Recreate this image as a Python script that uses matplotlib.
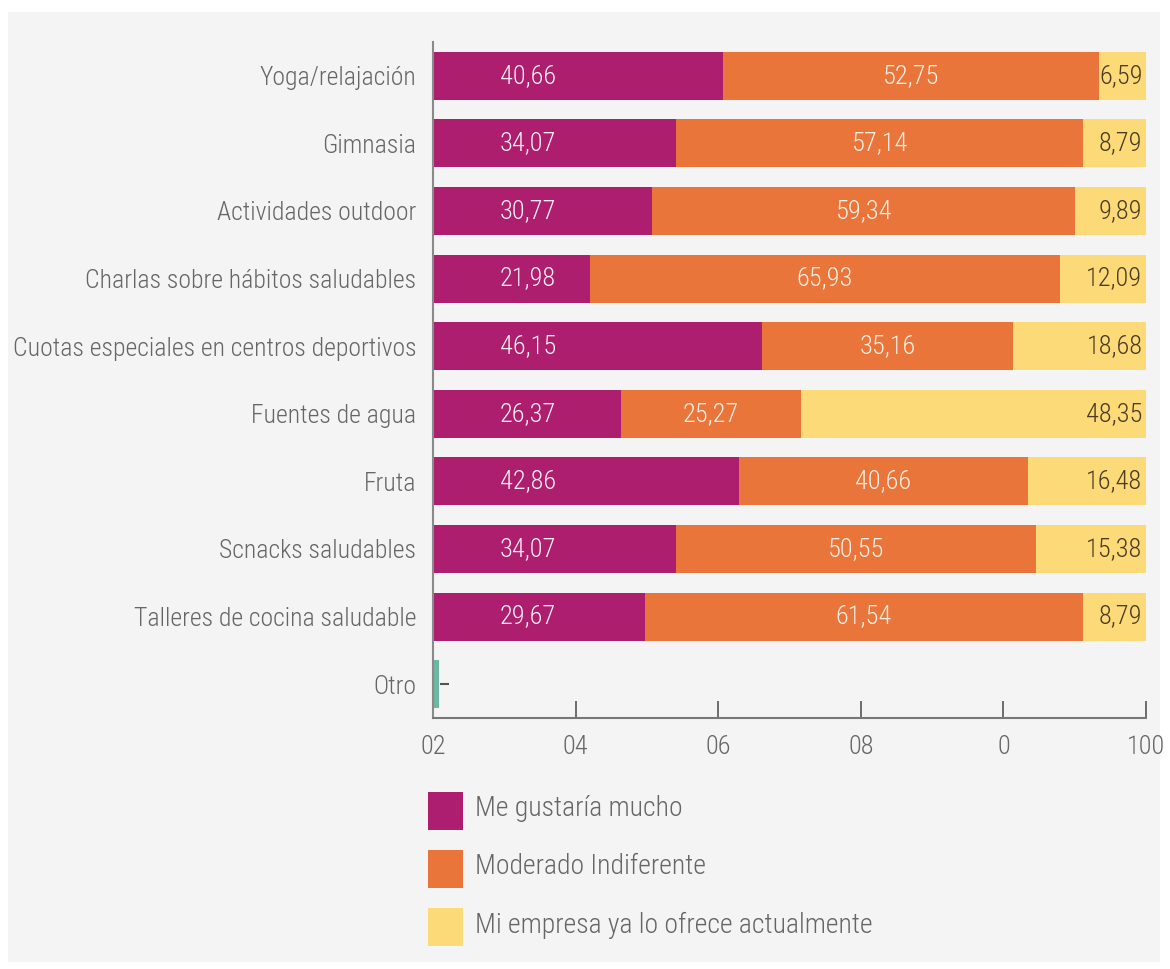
import matplotlib.pyplot as plt
from matplotlib import font_manager
from matplotlib.patches import Rectangle

categories = ["Yoga/relajación", "Gimnasia", "Actividades outdoor",
              "Charlas sobre hábitos saludables",
              "Cuotas especiales en centros deportivos", "Fuentes de agua",
              "Fruta", "Scnacks saludables", "Talleres de cocina saludable",
              "Otro"]
me_gustaria = [40.66, 34.07, 30.77, 21.98, 46.15, 26.37, 42.86, 34.07, 29.67, 0]
moderado = [52.75, 57.14, 59.34, 65.93, 35.16, 25.27, 40.66, 50.55, 61.54, 0]
ya_ofrece = [6.59, 8.79, 9.89, 12.09, 18.68, 48.35, 16.48, 15.38, 8.79, 0]
otro = [0, 0, 0, 0, 0, 0, 0, 0, 0, 0.8]

tick_pos = [0, 20, 40, 60, 80, 100]
tick_labels = ["02", "04", "06", "08", "0", "100"]

series_names = ["Me gustaría mucho", "Moderado Indiferente",
                "Mi empresa ya lo ofrece actualmente"]

c_purple = "#AE1E6F"
c_orange = "#E9753A"
c_yellow = "#FDDA78"
c_teal = "#6FB7A4"
c_text = "#666666"

# pick a narrow sans if one is around
names = {f.name for f in font_manager.fontManager.ttflist}
for cand in ["Roboto Condensed", "Liberation Sans Narrow", "Open Sans Condensed"]:
    if cand in names:
        family = cand
        break
else:
    family = "Roboto" if "Roboto" in names else "DejaVu Sans"
plt.rcParams['font.family'] = [family, 'DejaVu Sans']
plt.rcParams['font.weight'] = 'light'


def fmt(v):
    return f"{v:.2f}".replace(".", ",")


fig = plt.figure(figsize=(11.7, 9.69), dpi=100)
fig.patch.set_facecolor("white")
bg = Rectangle((8/1170, 7/969), 1152/1170, 950/969,
               transform=fig.transFigure, facecolor="#f4f4f4",
               edgecolor="none", zorder=-10)
fig.patches.append(bg)

ax = fig.add_axes([433/1170, 251/969, 713/1170, 676/969])
ax.set_facecolor("none")

y = list(range(len(categories)))
h = 0.71
left2 = [a + b for a, b in zip(me_gustaria, moderado)]

ax.barh(y, me_gustaria, height=h, color=c_purple)
ax.barh(y, moderado, left=me_gustaria, height=h, color=c_orange)
ax.barh(y, ya_ofrece, left=left2, height=h, color=c_yellow)
ax.barh(y, otro, height=h, color=c_teal)
ax.hlines(y[-1], otro[-1] + 0.2, otro[-1] + 1.5, color="#555555", lw=1.5)

fs_val = 19
for i in range(len(categories) - 1):
    ax.text(9.4, i, fmt(me_gustaria[i]), ha="left", va="center",
            color="#fbeef5", fontsize=fs_val)
    ax.text(me_gustaria[i] + moderado[i] / 2, i, fmt(moderado[i]),
            ha="center", va="center", color="#fdeee2", fontsize=fs_val)
    ax.text(99.5, i, fmt(ya_ofrece[i]), ha="right", va="center",
            color="#4a3b22", fontsize=fs_val)

ax.set_xlim(0, 100)
ax.set_ylim(9.5, -0.5)
ax.set_yticks(y)
ax.set_yticklabels(categories, fontsize=18.5, color=c_text)
ax.tick_params(axis="y", length=0, pad=12)
ax.set_xticks(tick_pos)
ax.set_xticklabels(tick_labels, fontsize=19, color=c_text)
ax.tick_params(axis="x", direction="in", length=12, width=1.2,
               color="#555555", pad=12)

for s in ["top", "right"]:
    ax.spines[s].set_visible(False)
ax.spines["left"].set_color("#8a8a8a")
ax.spines["bottom"].set_color("#777777")
ax.spines["left"].set_linewidth(1.5)
ax.spines["bottom"].set_linewidth(1.5)

# legend drawn by hand below the axis
for k, (name, col) in enumerate(zip(series_names, [c_purple, c_orange, c_yellow])):
    ytop = 792 + 58 * k
    fig.patches.append(Rectangle((428/1170, 1 - (ytop + 38)/969), 35/1170, 38/969,
                                 transform=fig.transFigure, facecolor=col,
                                 edgecolor="none"))
    fig.text(475/1170, 1 - (ytop + 17)/969, name, fontsize=20, color=c_text,
             va="center", ha="left")

fig.savefig("out.png", dpi=100)
